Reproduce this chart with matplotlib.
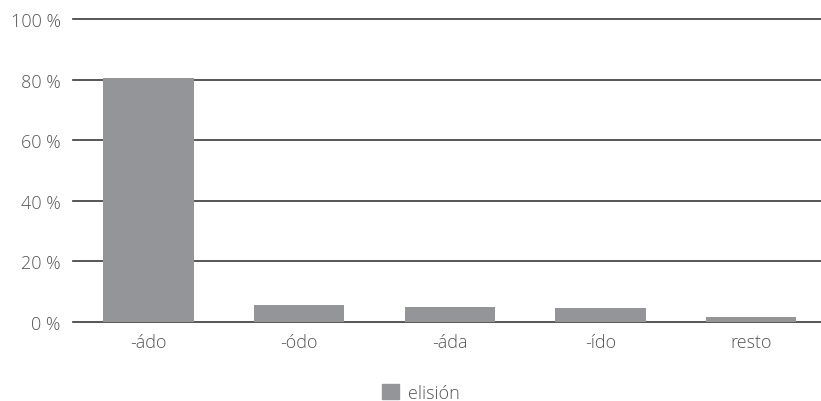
import matplotlib.pyplot as plt
import matplotlib.patches as mpatches

categories = ['-ádo', '-ódo', '-áda', '-ído', 'resto']
elision = [80.5, 5.6, 4.9, 4.6, 1.7]
yticks = [0, 20, 40, 60, 80, 100]
ytick_labels = ['0 %', '20 %', '40 %', '60 %', '80 %', '100 %']

plt.rcParams['font.family'] = ['Open Sans', 'DejaVu Sans']
plt.rcParams['font.weight'] = 'light'

fig = plt.figure(figsize=(8.21, 4.02), dpi=100)
ax = fig.add_axes([73 / 821, 1 - 323 / 402, 748 / 821, 303 / 402])

bar_color = '#939598'
ax.bar(range(len(categories)), elision, width=0.6, color=bar_color, zorder=3)

ax.set_ylim(0, 100)
ax.set_xlim(-0.5, 4.463)
ax.set_yticks(yticks)
ax.set_yticklabels(ytick_labels)
ax.set_xticks(range(len(categories)))
ax.set_xticklabels(categories)

for y in yticks:
    ax.axhline(y, color='#3a3a3a', lw=1.2, zorder=2, clip_on=False)

for s in ax.spines.values():
    s.set_visible(False)
ax.tick_params(axis='both', length=0, labelsize=13, colors='#555555')
ax.tick_params(axis='y', pad=9)
ax.tick_params(axis='x', pad=8)

handle = mpatches.Patch(color=bar_color, label='elisión')
fig.legend(handles=[handle], loc='center', bbox_to_anchor=(421 / 821, 1 - 394 / 402),
           frameon=False, fontsize=13, handlelength=0.9, handleheight=0.9,
           handletextpad=0.5, labelcolor='#555555')

fig.savefig('out.png', dpi=100)
